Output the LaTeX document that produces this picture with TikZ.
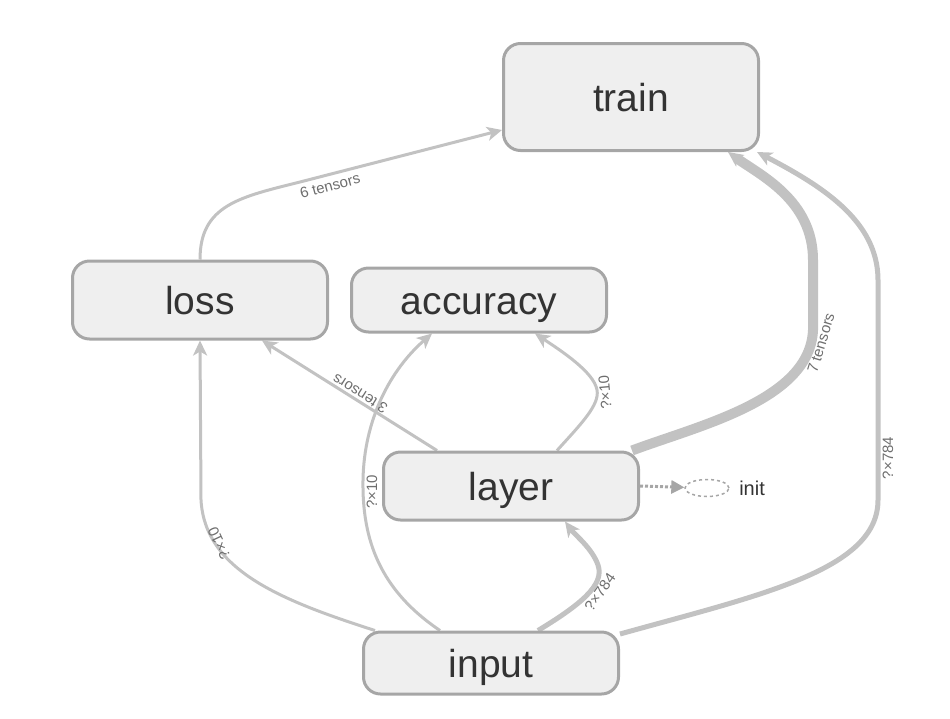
\documentclass[tikz,border=0pt]{standalone}
\usepackage{fontspec}
\setmainfont{Liberation Sans}
\usetikzlibrary{arrows.meta,positioning,shapes.geometric,backgrounds}
\definecolor{edgegray}{HTML}{C2C2C2}
\definecolor{boxline}{HTML}{A6A6A6}
\definecolor{boxfill}{HTML}{EFEFEF}
\definecolor{labelgray}{HTML}{6E6E6E}
\definecolor{opgray}{HTML}{333333}

\begin{document}
\begin{tikzpicture}[x=1pt, y=-1pt, >={Stealth[length=15pt, width=14pt, inset=4pt]},
  op/.style={draw=boxline, line width=3pt, fill=boxfill, rounded corners=17pt,
    minimum width=255pt, text=opgray, text height=29pt, text depth=1pt,
    font=\fontsize{39}{39}\selectfont},
  flow/.style={draw=edgegray, line width=3pt, ->},
  elabel/.style={text=labelgray, inner sep=1pt, font=\fontsize{15}{15}\selectfont}]
  \useasboundingbox (0,0) rectangle (950,718);
  % op nodes
  \node[op, minimum height=107pt] (train) at (631,97) {train};
  \node[op, minimum height=78pt] (loss) at (200,300) {loss};
  \node[op, minimum height=64pt] (accuracy) at (479,300) {accuracy};
  \node[op, minimum height=68pt] (layer) at (511,486) {layer};
  \node[op, minimum height=62pt] (input) at (491,663) {input};
  % init, hanging off layer
  \node[ellipse, draw=boxline, dashed, line width=1.5pt, minimum width=44pt,
    minimum height=17pt, inner sep=0pt] (init) at (707,488) {};
  \node[right=6pt of init, text=opgray, font=\fontsize{20}{20}\selectfont] (initlabel) {init};
  % edges, behind the op nodes
  \begin{scope}[on background layer]
    \draw[flow] (loss.north) .. controls (200,205) and (240,197) .. (300,182)
      -- ([yshift=-33pt]train.west);
    \draw[flow] ([xshift=-74pt]layer.north) -- ([xshift=62pt]loss.south);
    \draw[flow] ([xshift=46pt]layer.north) .. controls (580,425) and (600,405) .. (597,390)
      .. controls (594,372) and (560,350) .. ([xshift=56pt]accuracy.south);
    \draw[flow] ([xshift=-116pt]input.north) .. controls (280,600) and (205,570) .. (201,500)
      -- (loss.south);
    \draw[flow] ([xshift=-51pt]input.north) .. controls (380,590) and (362,540) .. (363,480)
      .. controls (364,420) and (390,370) .. ([xshift=-47pt]accuracy.south);
    \draw[flow, line width=5pt] ([xshift=47pt]input.north) .. controls (580,605) and (605,585) .. (598,565)
      .. controls (592,548) and (575,535) .. ([xshift=54pt]layer.south);
    \draw[flow, line width=5pt] ([yshift=29pt]input.east) .. controls (760,595) and (878,570) .. (878,500)
      -- (878,280) .. controls (878,220) and (820,185) .. ([xshift=-3pt]train.south east);
    \draw[flow, line width=10pt] ([xshift=121pt]layer.north) .. controls (700,425) and (810,400) .. (813,330)
      -- (813,260) .. controls (813,200) and (760,175) .. ([xshift=97pt]train.south);
    % dotted link to init
    \draw[draw=boxline, line width=3pt, dotted, -{Triangle[length=13pt, width=13pt]}] (layer.east) -- (init);
  \end{scope}
  % edge labels
  \node[elabel, rotate=15] (sixtensors) at (330,186) {6 tensors};
  \node[elabel, rotate=148] (threetensors) at (360,394) {3 tensors};
  \node[elabel, rotate=95] (layeracc) at (605,392) {?×10};
  \node[elabel, rotate=115] (inputloss) at (219,543) {?×10};
  \node[elabel, rotate=90] (inputacc) at (372,492) {?×10};
  \node[elabel, rotate=55] (inputlayer) at (600,592) {?×784};
  \node[elabel, rotate=90] (inputtrain) at (888,458) {?×784};
  \node[elabel, rotate=73] (seventensors) at (821,343) {7 tensors};
\end{tikzpicture}
\end{document}
